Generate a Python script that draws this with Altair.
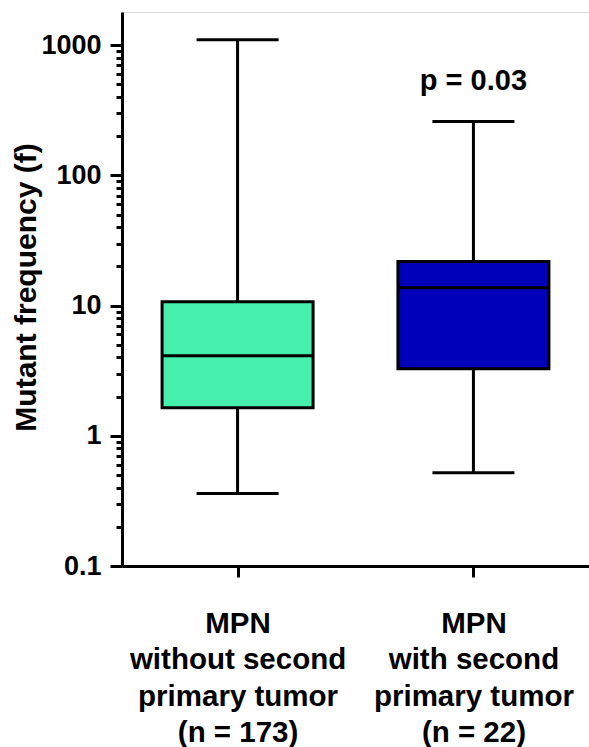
import altair as alt
import pandas as pd

groups = ["MPN|without second|primary tumor|(n = 173)", "MPN|with second|primary tumor|(n = 22)"]
mins = [0.36, 0.52]
q1s = [1.64, 3.27]
medians = [4.12, 13.7]
q3s = [10.7, 21.8]
maxs = [1100, 260]
colors = ["#44F0AC", "#0000BB"]
p_label = "p = 0.03"

major = [0.1, 1, 10, 100, 1000]
minor = [m * d for d in [0.1, 1, 10, 100] for m in range(2, 10)]
minor = [float(f"{v:.6g}") for v in minor]
tick_vals = major + minor

df = pd.DataFrame({"group": groups, "min": mins, "q1": q1s, "median": medians, "q3": q3s, "max": maxs})
ann = pd.DataFrame({"group": [groups[1]], "y": [maxs[1]], "text": [p_label]})

FONT = "Liberation Sans"
major_test = "indexof([0.1, 1, 10, 100, 1000], datum.value) >= 0"

xenc = alt.X(
    "group:N",
    sort=groups,
    scale=alt.Scale(type="point", padding=0.49),
    axis=alt.Axis(
        title=None,
        labelExpr="split(datum.label, '|')",
        labelFont=FONT,
        labelFontSize=29.5,
        labelFontWeight="bold",
        labelColor="black",
        labelLineHeight=36.5,
        labelAngle=0,
        labelPadding=32,
        labelBaseline="top",
        labelLimit=0,
        tickSize=11,
        tickWidth=3,
        tickColor="black",
        domainWidth=3,
        domainColor="black",
        grid=False,
    ),
)

yscale = alt.Scale(type="log", domain=[0.1, 1800], nice=False)
yaxis = alt.Axis(
    title="Mutant frequency (f)",
    titleFont=FONT,
    titleFontSize=30,
    titleFontWeight="bold",
    titleColor="black",
    titleX=-96,
    titleY=275,
    titleAngle=270,
    titleAlign="center",
    titleBaseline="middle",
    values=tick_vals,
    labelExpr=f"{major_test} ? toString(datum.value) : ''",
    labelOverlap=False,
    labelFont=FONT,
    labelFontSize=27,
    labelFontWeight="bold",
    labelColor="black",
    labelPadding=9,
    tickSize={"condition": {"test": major_test, "value": 12}, "value": 6},
    tickWidth=3,
    tickColor="black",
    domainWidth=3,
    domainColor="black",
    grid=False,
)

base = alt.Chart(df)

whisker = base.mark_rule(color="black", strokeWidth=3).encode(
    x=xenc,
    y=alt.Y("min:Q", scale=yscale, axis=yaxis),
    y2="max:Q",
)
caps_low = base.mark_tick(color="black", size=82, thickness=3, opacity=1).encode(x=xenc, y=alt.Y("min:Q"))
caps_high = base.mark_tick(color="black", size=82, thickness=3, opacity=1).encode(x=xenc, y=alt.Y("max:Q"))
box = base.mark_bar(size=151, stroke="black", strokeWidth=3, opacity=1).encode(
    x=xenc,
    y=alt.Y("q1:Q"),
    y2="q3:Q",
    color=alt.Color("group:N", scale=alt.Scale(domain=groups, range=colors), legend=None),
)
med = base.mark_tick(color="black", size=151, thickness=3, opacity=1).encode(x=xenc, y=alt.Y("median:Q"))

ptext = alt.Chart(ann).mark_text(
    font=FONT, fontSize=29, fontWeight="bold", color="black", dy=-40, baseline="middle"
).encode(x=xenc, y=alt.Y("y:Q"), text="text:N")

chart = alt.layer(whisker, box, med, caps_low, caps_high, ptext).properties(
    width=467,
    height=554,
    autosize=alt.AutoSizeParams(type="none"),
    padding={"left": 122, "top": 12, "right": 0, "bottom": 181},
).configure_view(stroke=None).configure(background="white")

chart.save("out.html", embed_options={"renderer": "svg", "actions": False})
